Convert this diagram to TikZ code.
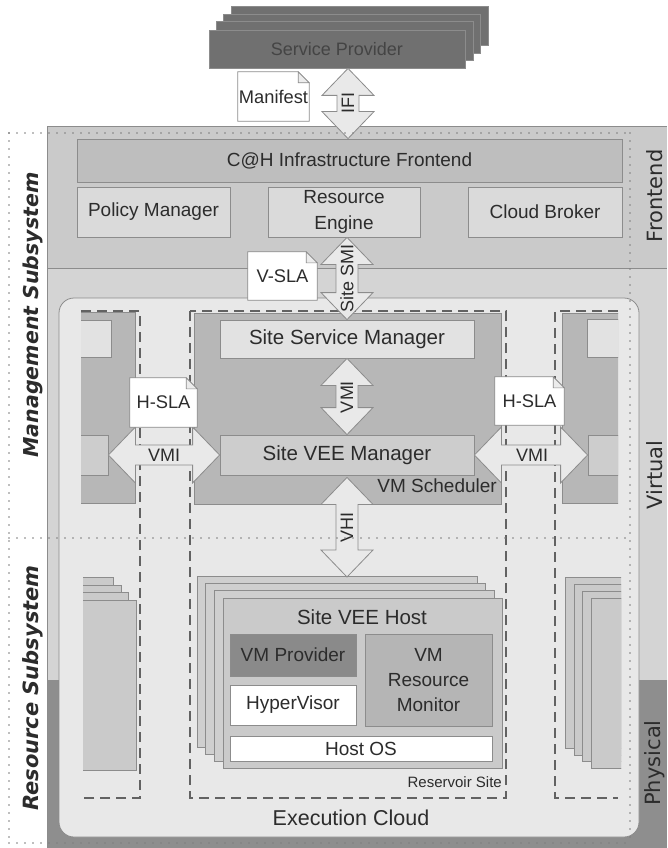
\documentclass[tikz,border=0pt]{standalone}
\usepackage{fontspec}
\setmainfont{Liberation Sans}
\newfontfamily\sidefont{DejaVu Sans}
\usetikzlibrary{calc}
\definecolor{txt}{HTML}{2C2C2C}
\definecolor{bline}{HTML}{8C8C8C}
\definecolor{frontbg}{HTML}{CACACA}
\definecolor{virtbg}{HTML}{D4D4D4}
\definecolor{physbg}{HTML}{8E8E8E}
\definecolor{chfill}{HTML}{BEBEBE}
\definecolor{lightbox}{HTML}{DADADA}
\definecolor{cloudfill}{HTML}{E8E8E8}
\definecolor{schedfill}{HTML}{B7B7B7}
\definecolor{ssmfill}{HTML}{E2E2E2}
\definecolor{svmfill}{HTML}{CDCDCD}
\definecolor{hostfill}{HTML}{CACACA}
\definecolor{provfill}{HTML}{8A8A8A}
\definecolor{monfill}{HTML}{B5B5B5}
\definecolor{spfill}{HTML}{707070}
\definecolor{sptext}{HTML}{444444}
\definecolor{arrowfill}{HTML}{E9E9E9}
\definecolor{dashcol}{HTML}{626262}
\definecolor{dotcol}{HTML}{7E7E7E}
\newcommand\fs[1]{\fontsize{#1pt}{#1pt}\selectfont}
\tikzset{
  box/.style={draw=bline, line width=0.8pt, inner sep=0pt, text=txt, align=center},
  lbl/.style={inner sep=0pt, text=txt, align=center},
  sidelbl/.style={inner sep=0pt, text=txt, rotate=90, font=\sidefont\fs{21}},
  sublbl/.style={inner sep=0pt, text=txt, rotate=90, font=\sidefont\bfseries\itshape\fs{20.5}},
  blockarrow/.style={fill=arrowfill, draw=bline, line width=0.8pt, line join=miter},
  dashline/.style={draw=dashcol, line width=1.6pt, dash pattern=on 10pt off 6pt},
  dotline/.style={draw=dotcol, line width=1.6pt, line cap=round, dash pattern=on 0pt off 8pt},
  docline/.style={fill=white, draw=bline, line width=0.8pt},
  docfold/.style={fill=white!85!gray, draw=bline, line width=0.6pt},
  layer/.style={draw=bline, line width=0.8pt},
}
\newcommand\vdarrow[2]{%
 \filldraw[blockarrow] (#1) -- ($(#1)+(26,27)$) -- ($(#1)+(11,27)$) -- ($(#2)+(11,-27)$) -- ($(#2)+(26,-27)$) -- (#2) -- ($(#2)+(-26,-27)$) -- ($(#2)+(-11,-27)$) -- ($(#1)+(-11,27)$) -- ($(#1)+(-26,27)$) -- cycle;}
\newcommand\hdarrow[2]{%
 \filldraw[blockarrow] (#1) -- ($(#1)+(27,-28)$) -- ($(#1)+(27,-10)$) -- ($(#2)+(-27,-10)$) -- ($(#2)+(-27,-28)$) -- (#2) -- ($(#2)+(-27,28)$) -- ($(#2)+(-27,10)$) -- ($(#1)+(27,10)$) -- ($(#1)+(27,28)$) -- cycle;}
\newcommand\docnote[5]{%
 \path node[minimum width=#3pt, minimum height=#4pt, inner sep=0pt] (#1) at #2 {};
 \filldraw[docline] (#1.north west) -- ($(#1.north east)+(-11,0)$) -- ($(#1.north east)+(0,11)$) -- (#1.south east) -- (#1.south west) -- cycle;
 \filldraw[docfold] ($(#1.north east)+(-11,0)$) -- ($(#1.north east)+(-11,11)$) -- ($(#1.north east)+(0,11)$) -- cycle;
 \node[lbl, font=\fs{18.3}] (#1-t) at (#1.center) {#5};}
\begin{document}
\begin{tikzpicture}[x=1pt,y=-1pt]
\useasboundingbox (0,0) rectangle (667,848);
\fill[white] (0,0) rectangle (667,848);
% layer backgrounds
\fill[virtbg] (47,126) rectangle (667,848);
\fill[frontbg] (47,126) rectangle (667,268);
\fill[physbg] (47,680) rectangle (667,848);
\draw[bline, line width=0.8pt] (47,848) -- (47,126) -- (667,126);
\draw[bline, line width=0.8pt] (47,268) -- (667,268);
% service provider stack
\node[layer, fill=spfill, minimum width=256pt, minimum height=38pt, inner sep=0pt] (sp) at (337,49) {};
\foreach \i in {3,2,1}{
  \filldraw[layer, fill=spfill] ($(sp.north west)+(7.6*\i,-7.7*\i)$) rectangle ($(sp.south east)+(7.6*\i,-7.7*\i)$);
}
\node[layer, fill=spfill, minimum width=256pt, minimum height=38pt, inner sep=0pt, text=sptext, font=\fs{18}] (spf) at (337,49) {Service Provider};
% frontend boxes
\node[box, fill=chfill, minimum width=545pt, minimum height=43pt, font=\fs{19}] (chf) at (349.5,160.5) {C@H Infrastructure Frontend};
\node[box, fill=lightbox, minimum width=153pt, minimum height=50pt, font=\fs{19}] (pm) at (153.5,212) {Policy Manager};
\node[box, fill=lightbox, minimum width=152pt, minimum height=50pt, font=\fontsize{19pt}{26pt}\selectfont] (re) at (344,212) {Resource\\Engine};
\node[box, fill=lightbox, minimum width=154pt, minimum height=50pt, font=\fs{19}] (cb) at (545,212) {Cloud Broker};
% execution cloud
\node[draw=bline, line width=0.8pt, fill=cloudfill, rounded corners=15pt, minimum width=580pt, minimum height=539pt, inner sep=0pt] (ec) at (349,567.5) {};
\node[lbl, font=\fs{21.5}] (ecl) at (351,818) {Execution Cloud};
% left partial virtual site
\begin{scope}
\clip (81,300) rectangle (180,520);
\node[box, fill=schedfill, minimum width=80pt, minimum height=191pt] (lsch) at (95,407.5) {};
\node[box, fill=ssmfill, minimum width=50pt, minimum height=37pt] (lssm) at (86,338.5) {};
\node[box, fill=svmfill, minimum width=47pt, minimum height=40pt] (lsvm) at (84.5,455) {};
\end{scope}
% right partial virtual site
\begin{scope}
\clip (540,300) rectangle (618,520);
\node[box, fill=schedfill, minimum width=80pt, minimum height=190pt] (rsch) at (602,408) {};
\node[box, fill=ssmfill, minimum width=50pt, minimum height=38pt] (rssm) at (612,338) {};
\node[box, fill=svmfill, minimum width=50pt, minimum height=40pt] (rsvm) at (613,455) {};
\end{scope}
% central site
\node[box, fill=schedfill, minimum width=307pt, minimum height=191pt] (sch) at (347.5,408.5) {};
\node[box, fill=ssmfill, minimum width=254pt, minimum height=38pt, font=\fs{20.5}] (ssm) at (347,339) {Site Service Manager};
\node[box, fill=svmfill, minimum width=254pt, minimum height=40pt, font=\fs{20.5}] (svm) at (347,455) {Site VEE Manager};
\node[lbl, anchor=east, font=\fs{19}] (vmsl) at (497,486) {VM Scheduler};
% dashed reservoir sites
\draw[dashline] (81,311) -- (140,311) -- (140,798) -- (83,798);
\draw[dashline] (190,311) rectangle (506,798);
\draw[dashline] (618,311) -- (555,311) -- (555,798) -- (618,798);
\node[lbl, anchor=east, font=\fs{15}] (rsl) at (502,782) {Reservoir Site};
% left resource stack
\begin{scope}
\clip (83,560) rectangle (200,800);
\node[box, fill=hostfill, minimum width=80pt, minimum height=170pt] (lh) at (96,685) {};
\foreach \i in {3,2,1}{
  \filldraw[layer, fill=hostfill] ($(lh.north west)+(-7.7*\i,-7.3*\i)$) rectangle ($(lh.south east)+(-7.7*\i,-7.3*\i)$);
}
\node[box, fill=hostfill, minimum width=80pt, minimum height=170pt] (lhf) at (96,685) {};
\end{scope}
% right resource stack
\begin{scope}
\clip (540,560) rectangle (621,800);
\node[box, fill=hostfill, minimum width=80pt, minimum height=170pt] (rh) at (631,683) {};
\foreach \i in {3,2,1}{
  \filldraw[layer, fill=hostfill] ($(rh.north west)+(-8.3*\i,-6.7*\i)$) rectangle ($(rh.south east)+(-8.3*\i,-6.7*\i)$);
}
\node[box, fill=hostfill, minimum width=80pt, minimum height=170pt] (rhf) at (631,683) {};
\end{scope}
% central host stack
\node[box, fill=hostfill, minimum width=279pt, minimum height=170pt] (host) at (362.5,683) {};
\foreach \i in {3,2,1}{
  \filldraw[layer, fill=hostfill!90!white] ($(host.north west)+(-8.5*\i,-7*\i)$) rectangle ($(host.south east)+(-8.5*\i,-7*\i)$);
}
\node[box, fill=hostfill, minimum width=279pt, minimum height=170pt] (hostf) at (362.5,683) {};
\coordinate (hosttop) at (347,577);
\node[lbl, font=\fs{20.5}] (hostl) at (362,617) {Site VEE Host};
\node[box, fill=provfill, minimum width=126pt, minimum height=42pt, font=\fs{19}] (prov) at (293,655) {VM Provider};
\node[box, fill=white, minimum width=126pt, minimum height=40pt, font=\fs{19}] (hyp) at (293,705) {HyperVisor};
\node[box, fill=monfill, minimum width=127pt, minimum height=92pt, font=\fontsize{19pt}{25pt}\selectfont] (mon) at (428.5,680) {VM\\Resource\\Monitor};
\node[box, fill=white, minimum width=262pt, minimum height=25pt, font=\fs{19}] (hos) at (361,748.5) {Host OS};
% block arrows
\coordinate (ifix) at (348,0);
\vdarrow{sp.south -| ifix}{chf.north -| ifix}
\node[lbl, rotate=90, font=\fs{18}] (ifil) at (348,103) {IFI};
\vdarrow{re.south -| ssm.north}{ssm.north}
\node[lbl, rotate=90, font=\fs{18}] (smil) at (347,278) {Site SMI};
\vdarrow{ssm.south}{svm.north}
\node[lbl, rotate=90, font=\fs{18}] (vmil) at (347,397) {VMI};
\vdarrow{$(svm.south)+(0,2)$}{hosttop}
\node[lbl, rotate=90, font=\fs{18}] (vhil) at (347,527) {VHI};
\hdarrow{lsvm.east}{svm.west}
\node[lbl, font=\fs{18}] (vmil2) at (164,455) {VMI};
\hdarrow{svm.east}{rsvm.west}
\node[lbl, font=\fs{18}] (vmil3) at (532,455) {VMI};
% documents
\docnote{man}{(273.5,96.5)}{71}{49}{Manifest}
\docnote{vsla}{(282.5,276)}{69}{48}{V-SLA}
\docnote{hsla}{(163.5,402.5)}{67}{49}{H-SLA}
\docnote{hslb}{(529.5,401)}{69}{48}{H-SLA}
% dotted subsystem boxes
\draw[dotline] (9,133) -- (630,133);
\draw[dotline] (9,538) -- (630,538);
\draw[dotline] (9,843) -- (630,843);
\draw[dotline] (9,133) -- (9,843);
\draw[dotline] (630,133) -- (630,843);
% side labels
\node[sublbl] (msub) at (33,315) {Management Subsystem};
\node[sublbl, font=\sidefont\bfseries\itshape\fs{21}] (rsub) at (33,688) {Resource Subsystem};
\node[sidelbl] (fel) at (655,196) {Frontend};
\node[sidelbl] (vil) at (655,475) {Virtual};
\node[sidelbl] (phl) at (655,763) {Physical};
\end{tikzpicture}
\end{document}
